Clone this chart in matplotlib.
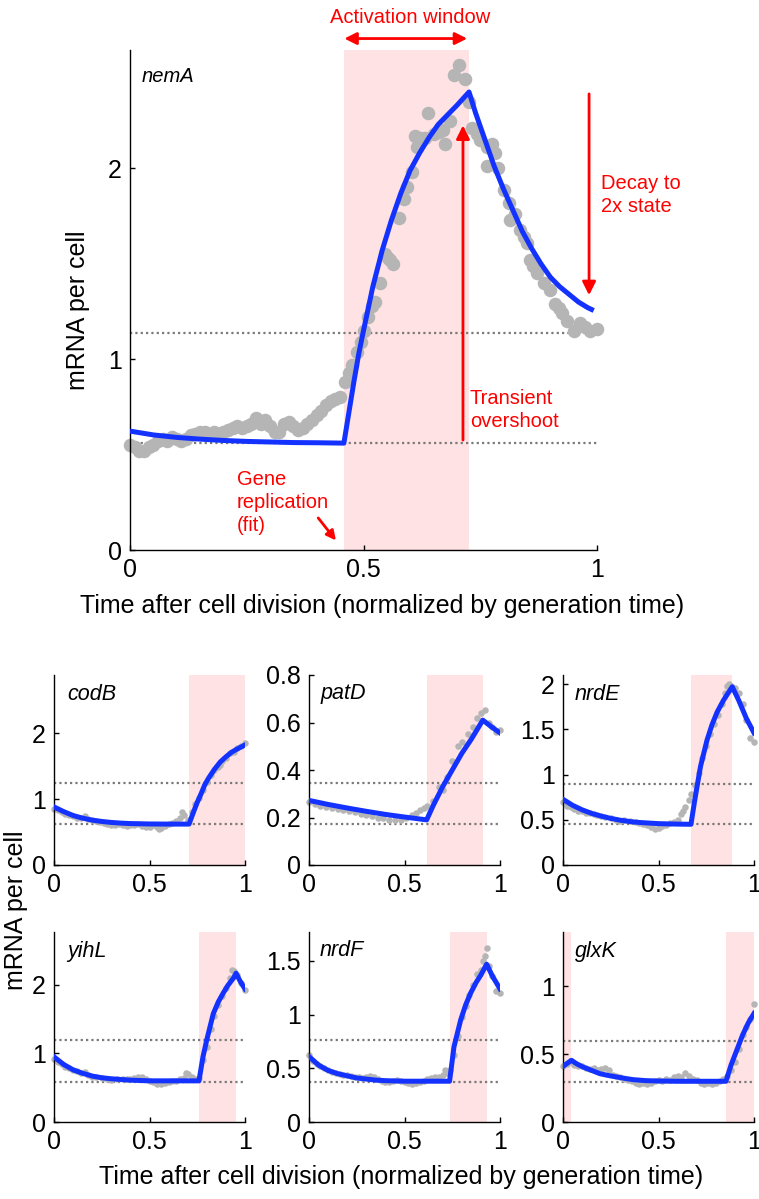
import matplotlib
matplotlib.use("Agg")
import matplotlib.pyplot as plt

plt.rcParams['font.family'] = ['Liberation Sans', 'DejaVu Sans']

# ---------------- data: top panel (nemA) ----------------
nemA_x = [0.00, 0.01, 0.02, 0.03, 0.04, 0.05, 0.06, 0.07, 0.08, 0.09, 0.10, 0.11, 0.12, 0.13,
          0.14, 0.15, 0.16, 0.17, 0.18, 0.19, 0.20, 0.21, 0.22, 0.23, 0.24, 0.25, 0.26, 0.27,
          0.28, 0.29, 0.30, 0.31, 0.32, 0.33, 0.34, 0.35, 0.36, 0.37, 0.38, 0.39, 0.40, 0.41,
          0.42, 0.43, 0.44, 0.45, 0.46, 0.468, 0.476, 0.486, 0.494, 0.50, 0.51, 0.518, 0.525,
          0.536, 0.546, 0.552, 0.557, 0.564, 0.575, 0.586, 0.593, 0.604, 0.611, 0.614, 0.62,
          0.632, 0.639, 0.65, 0.661, 0.671, 0.675, 0.686, 0.693, 0.704, 0.718, 0.725, 0.732,
          0.743, 0.75, 0.764, 0.764, 0.775, 0.782, 0.789, 0.80, 0.811, 0.814, 0.825, 0.836,
          0.843, 0.85, 0.857, 0.864, 0.871, 0.886, 0.90, 0.911, 0.918, 0.925, 0.936, 0.95,
          0.964, 0.975, 0.986, 1.00]
nemA_y = [0.55, 0.54, 0.52, 0.52, 0.54, 0.55, 0.57, 0.58, 0.57, 0.59, 0.58, 0.57, 0.58, 0.60,
          0.61, 0.62, 0.62, 0.61, 0.62, 0.61, 0.62, 0.63, 0.64, 0.65, 0.64, 0.65, 0.66, 0.69,
          0.66, 0.68, 0.65, 0.62, 0.62, 0.66, 0.67, 0.65, 0.63, 0.64, 0.66, 0.68, 0.71, 0.73,
          0.76, 0.78, 0.79, 0.80, 0.88, 0.93, 0.97, 1.04, 1.09, 1.15, 1.22, 1.28, 1.30,
          1.40, 1.55, 1.53, 1.52, 1.50, 1.74, 1.84, 1.90, 1.98, 2.17, 2.11, 2.16,
          2.16, 2.29, 2.18, 2.19, 2.20, 2.13, 2.25, 2.49, 2.54, 2.47, 2.35, 2.21,
          2.18, 2.15, 2.11, 2.01, 2.13, 2.08, 2.00, 1.885, 1.82, 1.73, 1.76, 1.675,
          1.64, 1.61, 1.52, 1.49, 1.45, 1.40, 1.36, 1.29, 1.27, 1.24, 1.20, 1.15,
          1.19, 1.17, 1.15, 1.16]
nemA_fit_x = [0.0, 0.05, 0.1, 0.15, 0.2, 0.25, 0.3, 0.35, 0.4, 0.458, 0.47, 0.48, 0.49, 0.50,
              0.52, 0.54, 0.56, 0.58, 0.60, 0.62, 0.64, 0.66, 0.68, 0.70, 0.726, 0.74, 0.76,
              0.78, 0.80, 0.82, 0.84, 0.86, 0.88, 0.90, 0.92, 0.94, 0.96, 0.98, 0.993]
nemA_fit_y = [0.623, 0.603, 0.590, 0.581, 0.574, 0.569, 0.566, 0.563, 0.562, 0.560, 0.74, 0.89,
              1.03, 1.15, 1.38, 1.57, 1.73, 1.87, 1.99, 2.08, 2.16, 2.23, 2.28, 2.33, 2.40,
              2.29, 2.15, 2.01, 1.89, 1.78, 1.67, 1.58, 1.50, 1.43, 1.38, 1.34, 1.30, 1.27, 1.255]
nemA_window = (0.458, 0.726)
nemA_levels = [0.56, 1.136]

# ---------------- data: small panels ----------------
genes = ['codB', 'patD', 'nrdE', 'yihL', 'nrdF', 'glxK']

codB_x = [0.0, 0.02, 0.04, 0.06, 0.08, 0.10, 0.12, 0.14, 0.16, 0.18, 0.20, 0.22, 0.24, 0.26, 0.28,
          0.30, 0.32, 0.34, 0.36, 0.38, 0.40, 0.42, 0.44, 0.46, 0.48, 0.50, 0.52, 0.54, 0.55,
          0.56, 0.58, 0.60, 0.62, 0.64, 0.66, 0.67, 0.68, 0.70, 0.72, 0.74, 0.76, 0.78, 0.80,
          0.82, 0.84, 0.86, 0.87, 0.88, 0.90, 0.92, 0.94, 0.96, 0.98, 1.0]
codB_y = [0.85, 0.83, 0.80, 0.78, 0.76, 0.74, 0.72, 0.71, 0.74, 0.70, 0.68, 0.66, 0.65, 0.63, 0.62,
          0.60, 0.61, 0.62, 0.60, 0.59, 0.61, 0.60, 0.62, 0.59, 0.57, 0.58, 0.60, 0.58, 0.54,
          0.56, 0.59, 0.62, 0.64, 0.66, 0.72, 0.80, 0.76, 0.68, 0.80, 0.92, 1.02, 1.14, 1.26,
          1.36, 1.44, 1.48, 1.52, 1.58, 1.62, 1.70, 1.72, 1.78, 1.80, 1.85]
codB_fit_x = [0.0, 0.05, 0.1, 0.15, 0.2, 0.25, 0.3, 0.35, 0.4, 0.5, 0.6, 0.707, 0.73, 0.75, 0.77,
              0.79, 0.81, 0.84, 0.87, 0.90, 0.93, 0.96, 1.0]
codB_fit_y = [0.88, 0.81, 0.75, 0.71, 0.68, 0.66, 0.645, 0.635, 0.628, 0.622, 0.62, 0.62, 0.80,
              0.95, 1.08, 1.22, 1.32, 1.45, 1.56, 1.64, 1.71, 1.76, 1.82]

patD_x = [0.0, 0.03, 0.06, 0.09, 0.12, 0.15, 0.18, 0.21, 0.24, 0.27, 0.30, 0.33, 0.36, 0.39, 0.42,
          0.45, 0.48, 0.51, 0.54, 0.56, 0.58, 0.60, 0.62, 0.65, 0.68, 0.70, 0.72, 0.75, 0.78,
          0.80, 0.83, 0.86, 0.88, 0.90, 0.92, 0.94, 0.96, 0.98, 1.0]
patD_y = [0.265, 0.255, 0.25, 0.245, 0.24, 0.235, 0.232, 0.226, 0.222, 0.215, 0.21, 0.206, 0.20,
          0.196, 0.19, 0.188, 0.19, 0.20, 0.21, 0.22, 0.23, 0.24, 0.25, 0.27, 0.33, 0.317,
          0.37, 0.44, 0.50, 0.52, 0.55, 0.58, 0.62, 0.64, 0.653, 0.60, 0.58, 0.56, 0.57]
patD_fit_x = [0.0, 0.1, 0.2, 0.3, 0.4, 0.5, 0.616, 0.65, 0.70, 0.75, 0.80, 0.85, 0.91, 0.95, 1.0]
patD_fit_y = [0.272, 0.255, 0.24, 0.226, 0.213, 0.202, 0.19, 0.25, 0.33, 0.40, 0.47, 0.53, 0.61,
              0.585, 0.556]

nrdE_x = [0.0, 0.02, 0.04, 0.06, 0.08, 0.1, 0.12, 0.14, 0.16, 0.18, 0.2, 0.22, 0.25, 0.28, 0.3,
          0.32, 0.35, 0.38, 0.4, 0.42, 0.44, 0.46, 0.48, 0.5, 0.52, 0.54, 0.56, 0.58, 0.6, 0.62,
          0.63, 0.64, 0.66, 0.67, 0.69, 0.71, 0.73, 0.75, 0.77, 0.79, 0.81, 0.83, 0.85, 0.86,
          0.87, 0.88, 0.89, 0.90, 0.92, 0.94, 0.96, 0.98, 1.0]
nrdE_y = [0.70, 0.65, 0.64, 0.62, 0.60, 0.60, 0.58, 0.57, 0.56, 0.55, 0.54, 0.53, 0.52, 0.50, 0.49,
          0.50, 0.49, 0.47, 0.46, 0.45, 0.44, 0.42, 0.40, 0.41, 0.43, 0.44, 0.46, 0.47, 0.50, 0.56,
          0.60, 0.64, 0.72, 0.78, 0.88, 1.02, 1.18, 1.32, 1.45, 1.56, 1.66, 1.78, 1.90, 1.98,
          2.00, 1.98, 1.96, 1.96, 1.90, 1.78, 1.60, 1.40, 1.36]
nrdE_fit_x = [0.0, 0.05, 0.1, 0.15, 0.2, 0.25, 0.3, 0.35, 0.4, 0.5, 0.6, 0.67, 0.69, 0.72, 0.754,
              0.78, 0.807, 0.84, 0.886, 0.92, 0.96, 1.0]
nrdE_fit_y = [0.726, 0.66, 0.61, 0.57, 0.54, 0.515, 0.495, 0.48, 0.47, 0.457, 0.452, 0.45, 0.72,
              1.09, 1.38, 1.55, 1.69, 1.82, 1.97, 1.82, 1.62, 1.46]

yihL_x = [0.0, 0.02, 0.04, 0.06, 0.08, 0.1, 0.12, 0.14, 0.16, 0.18, 0.2, 0.22, 0.25, 0.28, 0.3,
          0.33, 0.36, 0.38, 0.4, 0.42, 0.44, 0.46, 0.48, 0.5, 0.52, 0.54, 0.56, 0.58, 0.6, 0.62,
          0.64, 0.66, 0.68, 0.69, 0.70, 0.72, 0.74, 0.76, 0.78, 0.80, 0.82, 0.84, 0.86, 0.88,
          0.90, 0.92, 0.93, 0.94, 0.96, 0.98, 1.0]
yihL_y = [0.92, 0.88, 0.84, 0.80, 0.78, 0.76, 0.74, 0.72, 0.73, 0.68, 0.66, 0.65, 0.64, 0.62, 0.61,
          0.62, 0.63, 0.62, 0.62, 0.64, 0.66, 0.65, 0.62, 0.60, 0.58, 0.56, 0.55, 0.57, 0.58, 0.60,
          0.60, 0.62, 0.64, 0.72, 0.70, 0.66, 0.62, 0.64, 0.90, 1.10, 1.35, 1.55, 1.70, 1.84,
          1.95, 2.10, 2.22, 2.20, 2.14, 2.02, 1.92]
yihL_fit_x = [0.0, 0.05, 0.1, 0.15, 0.2, 0.25, 0.3, 0.35, 0.4, 0.5, 0.6, 0.759, 0.78, 0.80, 0.834,
              0.86, 0.886, 0.91, 0.94, 0.953, 0.975, 1.0]
yihL_fit_y = [0.95, 0.84, 0.76, 0.71, 0.67, 0.645, 0.63, 0.62, 0.61, 0.60, 0.60, 0.60, 0.95, 1.20,
              1.58, 1.75, 1.88, 1.99, 2.10, 2.17, 2.05, 1.94]

nrdF_x = [0.0, 0.02, 0.04, 0.06, 0.08, 0.1, 0.12, 0.14, 0.16, 0.18, 0.2, 0.22, 0.24, 0.26, 0.28,
          0.3, 0.32, 0.34, 0.36, 0.38, 0.4, 0.42, 0.44, 0.46, 0.48, 0.5, 0.52, 0.54, 0.56, 0.58,
          0.6, 0.62, 0.64, 0.66, 0.68, 0.70, 0.71, 0.72, 0.74, 0.76, 0.78, 0.80, 0.82, 0.84,
          0.86, 0.88, 0.90, 0.91, 0.92, 0.93, 0.94, 0.96, 0.98, 1.0]
nrdF_y = [0.62, 0.57, 0.54, 0.52, 0.50, 0.48, 0.47, 0.46, 0.45, 0.44, 0.44, 0.43, 0.42, 0.42, 0.41,
          0.42, 0.43, 0.42, 0.40, 0.38, 0.37, 0.37, 0.38, 0.39, 0.38, 0.37, 0.36, 0.35, 0.36, 0.37,
          0.38, 0.40, 0.41, 0.42, 0.42, 0.44, 0.48, 0.46, 0.48, 0.62, 0.80, 0.98, 1.08, 1.18,
          1.28, 1.38, 1.42, 1.50, 1.55, 1.62, 1.45, 1.36, 1.22, 1.20]
nrdF_fit_x = [0.0, 0.05, 0.1, 0.15, 0.2, 0.25, 0.3, 0.35, 0.4, 0.5, 0.6, 0.736, 0.759, 0.794, 0.82,
              0.846, 0.875, 0.9, 0.93, 0.96, 1.0]
nrdF_fit_y = [0.61, 0.53, 0.48, 0.45, 0.43, 0.41, 0.40, 0.39, 0.385, 0.38, 0.38, 0.38, 0.70, 0.95,
              1.09, 1.20, 1.30, 1.37, 1.47, 1.36, 1.24]

glxK_x = [0.0, 0.02, 0.04, 0.06, 0.08, 0.1, 0.12, 0.14, 0.16, 0.18, 0.2, 0.22, 0.24, 0.26, 0.28,
          0.3, 0.32, 0.34, 0.36, 0.38, 0.4, 0.42, 0.44, 0.46, 0.48, 0.5, 0.52, 0.54, 0.56, 0.58,
          0.6, 0.62, 0.64, 0.66, 0.68, 0.7, 0.72, 0.74, 0.76, 0.78, 0.8, 0.82, 0.84, 0.86, 0.88,
          0.9, 0.92, 0.94, 0.96, 0.98, 1.0]
glxK_y = [0.41, 0.43, 0.44, 0.42, 0.41, 0.41, 0.40, 0.39, 0.40, 0.38, 0.39, 0.40, 0.38, 0.35, 0.34,
          0.33, 0.32, 0.31, 0.30, 0.29, 0.28, 0.29, 0.28, 0.29, 0.30, 0.31, 0.30, 0.32, 0.31, 0.33,
          0.34, 0.33, 0.36, 0.34, 0.32, 0.31, 0.29, 0.28, 0.29, 0.28, 0.29, 0.30, 0.32, 0.34, 0.38,
          0.44, 0.54, 0.64, 0.70, 0.76, 0.87]
glxK_fit_x = [0.0, 0.044, 0.07, 0.105, 0.15, 0.193, 0.24, 0.28, 0.33, 0.368, 0.43, 0.5, 0.6, 0.7,
              0.853, 0.88, 0.91, 0.94, 0.97, 1.0]
glxK_fit_y = [0.41, 0.455, 0.43, 0.405, 0.38, 0.356, 0.342, 0.332, 0.32, 0.312, 0.305, 0.302, 0.30,
              0.30, 0.30, 0.42, 0.53, 0.64, 0.73, 0.80]

panel_data = {
    'codB': (codB_x, codB_y, codB_fit_x, codB_fit_y),
    'patD': (patD_x, patD_y, patD_fit_x, patD_fit_y),
    'nrdE': (nrdE_x, nrdE_y, nrdE_fit_x, nrdE_fit_y),
    'yihL': (yihL_x, yihL_y, yihL_fit_x, yihL_fit_y),
    'nrdF': (nrdF_x, nrdF_y, nrdF_fit_x, nrdF_fit_y),
    'glxK': (glxK_x, glxK_y, glxK_fit_x, glxK_fit_y),
}
windows = {
    'codB': [(0.707, 1.0)],
    'patD': [(0.616, 0.91)],
    'nrdE': [(0.67, 0.886)],
    'yihL': [(0.759, 0.953)],
    'nrdF': [(0.736, 0.93)],
    'glxK': [(0.0, 0.044), (0.853, 1.0)],
}
levels = {
    'codB': [0.62, 1.24],
    'patD': [0.172, 0.346],
    'nrdE': [0.45, 0.90],
    'yihL': [0.59, 1.20],
    'nrdF': [0.373, 0.76],
    'glxK': [0.295, 0.60],
}
ylims = {'codB': 2.88, 'patD': 0.8, 'nrdE': 2.1, 'yihL': 2.77, 'nrdF': 1.77, 'glxK': 1.4}
yticks = {
    'codB': [0, 1, 2],
    'patD': [0, 0.2, 0.4, 0.6, 0.8],
    'nrdE': [0, 0.5, 1, 1.5, 2],
    'yihL': [0, 1, 2],
    'nrdF': [0, 0.5, 1, 1.5],
    'glxK': [0, 0.5, 1],
}
ytick_labels = {
    'codB': ['0', '1', '2'],
    'patD': ['0', '0.2', '0.4', '0.6', '0.8'],
    'nrdE': ['0', '0.5', '1', '1.5', '2'],
    'yihL': ['0', '1', '2'],
    'nrdF': ['0', '0.5', '1', '1.5'],
    'glxK': ['0', '0.5', '1'],
}
xticks = [0, 0.5, 1]
xtick_labels = ['0', '0.5', '1']

# ---------------- styles ----------------
W, H = 759, 1199
BLUE = '#1432ff'
GRAY = '#b5b5b5'
PINK = '#ffe2e4'
RED = '#ff0000'
DOT = '#7a7a7a'
TICK_FS = 18
LABEL_FS = 18

fig = plt.figure(figsize=(W / 100, H / 100), dpi=100)


def px_axes(left, top, right, bottom):
    return fig.add_axes([left / W, 1 - bottom / H, (right - left) / W, (bottom - top) / H])


def style(ax):
    for s in ['top', 'right']:
        ax.spines[s].set_visible(False)
    for s in ['left', 'bottom']:
        ax.spines[s].set_linewidth(1.0)
    ax.tick_params(direction='in', length=3.5, width=1, labelsize=TICK_FS, pad=6)
    ax.set_xlim(0, 1.0)
    ax.set_xticks(xticks)
    ax.set_xticklabels(xtick_labels)


# ---------------- top panel ----------------
ax = px_axes(130, 50, 597, 550)
style(ax)
ax.set_ylim(0, 2.62)
ax.set_yticks([0, 1, 2])
ax.set_yticklabels(['0', '1', '2'])
ax.axvspan(nemA_window[0], nemA_window[1], color=PINK, lw=0, zorder=0)
for lv in nemA_levels:
    ax.plot([0, 1], [lv, lv], color=DOT, lw=1.6, ls=(0, (1, 1.4)), zorder=1)
ax.scatter(nemA_x, nemA_y, s=95, color=GRAY, lw=0, zorder=2, clip_on=False)
ax.plot(nemA_fit_x, nemA_fit_y, color=BLUE, lw=3.6, zorder=3, solid_capstyle='butt')
ax.text(0.024, 2.48, 'nemA', style='italic', fontsize=14.5, va='center', ha='left')

# annotations
ax.annotate('', xy=(0.459, 2.68), xytext=(0.722, 2.68),
            arrowprops=dict(arrowstyle='<|-|>', color=RED, lw=2, mutation_scale=18, shrinkA=0, shrinkB=0),
            annotation_clip=False)
ax.text(0.60, 2.79, 'Activation window', color=RED, fontsize=14.5, ha='center', va='center', clip_on=False)
ax.annotate('', xy=(0.713, 2.225), xytext=(0.713, 0.576),
            arrowprops=dict(arrowstyle='-|>', color=RED, lw=2, mutation_scale=20, shrinkA=0, shrinkB=0))
ax.text(0.728, 0.735, 'Transient\novershoot', color=RED, fontsize=14.5, ha='left', va='center',
        linespacing=1.25)
ax.annotate('', xy=(0.983, 1.335), xytext=(0.983, 2.39),
            arrowprops=dict(arrowstyle='-|>', color=RED, lw=2, mutation_scale=20, shrinkA=0, shrinkB=0),
            annotation_clip=False)
ax.text(1.008, 1.86, 'Decay to\n2x state', color=RED, fontsize=14.5, ha='left', va='center',
        linespacing=1.25, clip_on=False)
ax.text(0.229, 0.25, 'Gene\nreplication\n(fit)', color=RED, fontsize=14.5, ha='left', va='center',
        linespacing=1.25)
ax.annotate('', xy=(0.441, 0.05), xytext=(0.403, 0.168),
            arrowprops=dict(arrowstyle='-|>', color=RED, lw=2, mutation_scale=14, shrinkA=0, shrinkB=0))

fig.text(78 / W, 1 - 310 / H, 'mRNA per cell', rotation=90, fontsize=LABEL_FS, ha='center', va='center')
fig.text(382 / W, 1 - 606 / H, 'Time after cell division (normalized by generation time)',
         fontsize=LABEL_FS, ha='center', va='center')

# ---------------- small panels ----------------
col_left = [54, 309, 563]
row_top = [675, 932]
label_pos = {'codB': 0.068, 'patD': 0.058, 'nrdE': 0.063, 'yihL': 0.068, 'nrdF': 0.058, 'glxK': 0.063}
for i, g in enumerate(genes):
    r, c = divmod(i, 3)
    a = px_axes(col_left[c], row_top[r], col_left[c] + 191, row_top[r] + 190)
    style(a)
    a.set_ylim(0, ylims[g])
    a.set_yticks(yticks[g])
    a.set_yticklabels(ytick_labels[g])
    for (w0, w1) in windows[g]:
        a.axvspan(w0, w1, color=PINK, lw=0, zorder=0)
    for lv in levels[g]:
        a.plot([0, 1], [lv, lv], color=DOT, lw=1.6, ls=(0, (1, 1.4)), zorder=1)
    dx, dy, fx, fy = panel_data[g]
    a.scatter(dx, dy, s=22, color=GRAY, lw=0, zorder=2, clip_on=False)
    a.plot(fx, fy, color=BLUE, lw=3.6, zorder=3)
    a.text(label_pos[g], 0.90, g, style='italic', fontsize=15.5, transform=a.transAxes,
           ha='left', va='center')

fig.text(16 / W, 1 - 910 / H, 'mRNA per cell', rotation=90, fontsize=LABEL_FS, ha='center', va='center')
fig.text(401 / W, 1 - 1177 / H, 'Time after cell division (normalized by generation time)',
         fontsize=LABEL_FS, ha='center', va='center')

fig.savefig('out.png', dpi=100)
